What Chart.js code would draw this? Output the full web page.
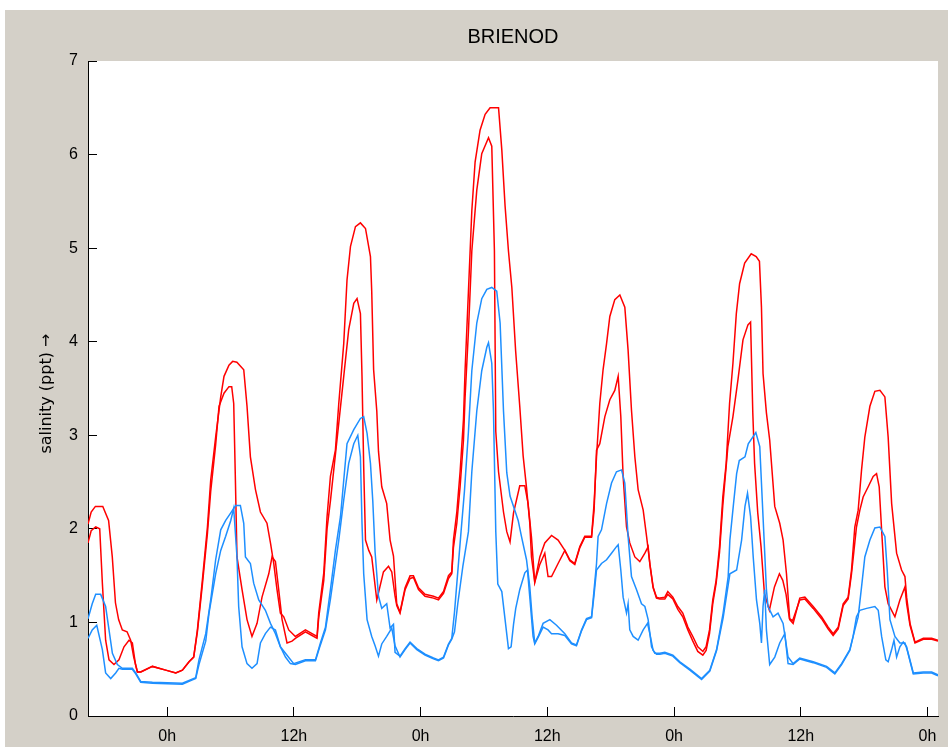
<!DOCTYPE html>
<html>
<head>
<meta charset="utf-8">
<title>BRIENOD</title>
<script src="https://cdn.jsdelivr.net/npm/chart.js@4.4.1/dist/chart.umd.min.js"></script>
<style>
  html, body { margin: 0; padding: 0; background: #fff; }
  canvas { display: block; }
</style>
</head>
<body>
<canvas id="salinity-chart" width="948" height="747"></canvas>
<script>
/* ============================================
   BRIENOD — salinity (ppt) over ~3.5 days
   ============================================ */

// tick positions on the time axis (hours) and their labels
const tickHours = [0, 12, 24, 36, 48, 60, 72];
const tickLabels = ['0h', '12h', '0h', '12h', '0h', '12h', '0h'];

// [hour, salinity] pairs
const redHigh = [
  [-7.5,2.05],[-7.2,2.18],[-6.8,2.24],[-6.1,2.24],[-5.55,2.09],[-5.2,1.70],[-4.9,1.21],[-4.6,1.03],[-4.25,0.92],[-3.8,0.90],
  [-3.46,0.81],[-3.17,0.63],[-2.82,0.47],[-2.5,0.47],[-1.4,0.53],[-0.14,0.49],[0.81,0.46],[1.44,0.49],[2.07,0.58],[2.51,0.63],
  [2.86,0.92],[3.33,1.45],[3.81,2.02],[4.12,2.52],[4.59,2.98],[5.07,3.41],[5.38,3.63],[5.85,3.75],[6.2,3.79],[6.6,3.78],
  [7.25,3.70],[7.56,3.31],[7.88,2.77],[8.36,2.42],[8.83,2.18],[9.45,2.06],[9.78,1.85],[10.09,1.63],[10.40,1.35],[10.72,1.10],
  [11.04,1.06],[11.51,0.92],[12.14,0.85],[13.09,0.92],[13.72,0.88],[14.19,0.85],[14.35,1.10],[14.83,1.53],[15.14,2.13],[15.46,2.56],
  [15.93,2.84],[16.25,3.34],[16.72,3.98],[17.03,4.66],[17.36,5.02],[17.83,5.23],[18.30,5.27],[18.78,5.21],[19.25,4.91],[19.37,4.54],
  [19.55,3.70],[19.85,3.26],[20.01,2.83],[20.32,2.45],[20.79,2.27],[21.11,1.88],[21.43,1.71],[21.74,1.20],[22.05,1.11],[22.53,1.37],
  [23.00,1.50],[23.32,1.50],[23.80,1.37],[24.42,1.30],[25.22,1.28],[25.69,1.26],[26.17,1.33],[26.64,1.50],[26.95,1.54],[27.11,1.88],
  [27.43,2.18],[27.74,2.61],[28.06,3.17],[28.21,3.69],[28.53,4.54],[28.85,5.40],[29.16,5.92],[29.63,6.26],[30.11,6.43],[30.58,6.50],
  [31.38,6.50],[31.69,6.05],[32.00,5.45],[32.32,4.97],[32.64,4.58],[33.0,3.90],[33.39,3.31],[33.71,2.78],[34.03,2.44],[34.34,2.06],
  [34.50,1.70],[34.81,1.43],[35.29,1.70],[35.76,1.85],[36.40,1.93],[37.02,1.88],[37.66,1.77],[38.13,1.67],[38.60,1.63],[39.08,1.81],
  [39.55,1.92],[40.19,1.92],[40.43,2.27],[40.66,2.77],[40.97,3.34],[41.28,3.70],[41.61,3.98],[41.92,4.27],[42.39,4.45],[42.87,4.50],
  [43.34,4.37],[43.65,3.91],[43.97,3.27],[44.29,2.77],[44.60,2.42],[45.08,2.20],[45.40,1.92],[45.71,1.63],[46.02,1.38],[46.34,1.27],
  [46.66,1.26],[47.13,1.27],[47.41,1.33],[47.89,1.27],[48.36,1.17],[48.83,1.10],[49.31,0.95],[49.78,0.85],[50.25,0.74],[50.73,0.69],
  [51.04,0.74],[51.36,0.92],[51.67,1.24],[51.99,1.45],[52.31,1.81],[52.62,2.34],[52.94,2.70],[53.26,3.34],[53.58,3.77],[53.90,4.30],
  [54.21,4.62],[54.69,4.84],[55.31,4.94],[55.78,4.91],[56.09,4.86],[56.28,4.37],[56.43,3.66],[56.75,3.24],[57.06,2.95],[57.54,2.24],
  [58.01,2.06],[58.33,1.88],[58.65,1.52],[58.96,1.03],[59.28,0.99],[59.91,1.26],[60.39,1.27],[61.18,1.17],[61.97,1.06],[62.60,0.95],
  [63.07,0.88],[63.55,0.95],[64.02,1.20],[64.49,1.27],[64.81,1.56],[65.12,2.02],[65.44,2.20],[65.76,2.63],[66.07,2.98],[66.55,3.31],
  [67.02,3.47],[67.50,3.48],[67.97,3.41],[68.28,2.98],[68.61,2.27],[69.08,1.74],[69.55,1.56],[69.87,1.49],[70.03,1.27],[70.35,0.99],
  [70.82,0.79],[71.61,0.83],[72.40,0.83],[73.0,0.81]
];

const redLow = [
  [-7.5,1.85],[-7.2,1.98],[-6.77,2.02],[-6.39,2.00],[-6.14,1.42],[-5.83,0.81],[-5.51,0.60],[-5.04,0.55],[-4.57,0.60],[-4.09,0.74],
  [-3.62,0.81],[-3.30,0.78],[-3.0,0.55],[-2.82,0.47],[-2.5,0.47],[-1.4,0.53],[-0.14,0.49],[0.81,0.46],[1.44,0.49],[2.07,0.58],
  [2.51,0.63],[2.86,0.90],[3.33,1.40],[3.81,1.95],[4.12,2.40],[4.59,2.90],[4.91,3.31],[5.38,3.45],[5.85,3.52],[6.11,3.52],
  [6.30,3.34],[6.46,2.52],[6.61,1.70],[7.09,1.35],[7.56,1.03],[8.03,0.85],[8.51,0.99],[8.98,1.27],[9.62,1.52],[9.93,1.70],
  [10.25,1.65],[10.56,1.35],[10.88,1.03],[11.35,0.78],[11.82,0.80],[12.14,0.83],[13.09,0.90],[13.72,0.86],[14.19,0.83],[14.35,1.05],
  [14.83,1.45],[15.14,2.00],[15.46,2.30],[16.25,3.13],[16.72,3.63],[17.19,4.13],[17.67,4.41],[17.98,4.46],[18.30,4.30],[18.45,3.63],
  [18.61,2.66],[18.78,1.88],[19.09,1.77],[19.37,1.70],[19.85,1.24],[20.48,1.54],[20.96,1.60],[21.27,1.54],[21.58,1.28],[21.74,1.18],
  [22.05,1.10],[22.53,1.35],[23.0,1.47],[23.32,1.48],[23.80,1.35],[24.42,1.28],[25.22,1.26],[25.69,1.24],[26.17,1.31],[26.64,1.47],
  [26.95,1.52],[27.11,1.80],[27.43,2.06],[27.74,2.45],[28.06,2.95],[28.21,3.40],[28.53,4.11],[28.85,4.97],[29.32,5.62],[29.79,6.01],
  [30.43,6.18],[30.74,6.09],[30.99,4.97],[31.12,3.04],[31.38,2.61],[31.85,2.18],[32.16,1.97],[32.47,1.86],[32.80,2.17],[33.39,2.46],
  [33.87,2.46],[34.18,2.27],[34.50,1.91],[34.81,1.43],[35.29,1.62],[35.76,1.74],[36.07,1.49],[36.40,1.49],[37.02,1.63],[37.66,1.77],
  [38.13,1.66],[38.60,1.62],[39.08,1.80],[39.55,1.91],[40.19,1.91],[40.43,2.20],[40.66,2.84],[40.97,2.91],[41.45,3.20],[41.92,3.38],
  [42.39,3.48],[42.71,3.63],[42.96,3.20],[43.18,2.56],[43.50,2.02],[43.81,1.85],[44.29,1.70],[44.76,1.65],[45.24,1.74],[45.55,1.81],
  [45.71,1.62],[46.02,1.37],[46.34,1.26],[46.66,1.25],[47.13,1.25],[47.41,1.30],[47.89,1.25],[48.36,1.14],[48.83,1.06],[49.31,0.92],
  [49.78,0.80],[50.25,0.69],[50.73,0.65],[51.04,0.70],[51.36,0.88],[51.67,1.20],[51.99,1.42],[52.31,1.75],[52.62,2.25],[53.10,2.88],
  [53.58,3.20],[54.05,3.59],[54.53,4.02],[55.00,4.18],[55.25,4.21],[55.46,3.24],[55.63,2.70],[55.93,2.17],[56.24,1.81],[56.56,1.31],
  [57.03,1.13],[57.51,1.38],[57.98,1.52],[58.30,1.45],[58.61,1.30],[58.93,1.04],[59.24,1.02],[59.91,1.24],[60.39,1.25],[61.18,1.15],
  [61.97,1.04],[62.60,0.93],[63.07,0.86],[63.55,0.93],[64.02,1.18],[64.49,1.25],[64.81,1.52],[65.28,2.02],[65.60,2.20],[65.91,2.34],
  [66.39,2.45],[66.86,2.56],[67.18,2.59],[67.43,2.45],[67.66,1.99],[67.97,1.38],[68.28,1.20],[68.92,1.06],[69.39,1.24],[69.87,1.38],
  [70.03,1.20],[70.35,0.97],[70.82,0.78],[71.61,0.82],[72.40,0.82],[73.0,0.80]
];

const blueHigh = [
  [-7.5,1.04],[-7.1,1.20],[-6.77,1.30],[-6.30,1.30],[-5.83,1.17],[-5.51,0.92],[-5.19,0.67],[-4.72,0.55],[-4.25,0.51],[-3.30,0.51],
  [-2.98,0.46],[-2.51,0.37],[-1.40,0.36],[1.44,0.35],[2.07,0.38],[2.70,0.41],[3.01,0.60],[3.65,0.88],[4.12,1.24],[4.59,1.67],
  [5.07,1.99],[5.54,2.09],[6.02,2.17],[6.49,2.25],[6.93,2.25],[7.25,2.06],[7.41,1.70],[7.88,1.63],[8.19,1.42],[8.67,1.24],
  [9.30,1.13],[9.78,0.99],[10.25,0.88],[10.72,0.74],[11.20,0.67],[11.98,0.56],[13.09,0.60],[14.04,0.60],[14.51,0.78],[14.99,0.95],
  [15.46,1.35],[15.93,1.77],[16.41,2.13],[16.72,2.52],[17.03,2.91],[17.67,3.06],[18.30,3.18],[18.61,3.20],[18.93,3.02],[19.25,2.70],
  [19.47,2.30],[19.69,1.75],[20.01,1.28],[20.32,1.15],[20.79,1.20],[21.11,0.94],[21.43,0.98],[21.58,0.68],[22.05,0.64],[22.53,0.72],
  [23.00,0.79],[23.64,0.72],[24.42,0.66],[25.22,0.62],[25.69,0.60],[26.17,0.63],[26.64,0.77],[26.95,0.83],[27.21,1.11],[27.52,1.54],
  [27.83,1.97],[28.15,2.40],[28.53,3.04],[28.85,3.69],[29.32,4.20],[29.79,4.46],[30.27,4.56],[30.74,4.58],[31.21,4.54],[31.53,4.20],
  [31.85,3.26],[32.16,2.60],[32.47,2.35],[32.92,2.20],[33.24,2.09],[33.55,1.92],[34.03,1.67],[34.34,1.38],[34.56,1.06],[34.81,0.78],
  [35.13,0.85],[35.60,0.99],[36.24,1.03],[36.87,0.97],[37.66,0.88],[38.29,0.78],[38.76,0.76],[39.24,0.92],[39.71,1.04],[40.19,1.06],
  [40.43,1.35],[40.66,1.63],[40.81,1.92],[41.13,1.99],[41.61,2.27],[42.08,2.49],[42.55,2.61],[43.03,2.63],[43.34,2.49],[43.65,1.92],
  [43.97,1.49],[44.45,1.35],[44.92,1.20],[45.24,1.17],[45.55,1.03],[45.87,0.74],[46.18,0.67],[46.66,0.67],[47.13,0.68],[47.89,0.65],
  [48.55,0.58],[49.50,0.50],[50.61,0.40],[51.39,0.49],[52.03,0.71],[52.65,1.10],[53.13,1.49],[53.29,1.88],[53.61,2.24],[53.93,2.59],
  [54.18,2.73],[54.72,2.77],[55.03,2.91],[55.75,3.03],[56.12,2.88],[56.43,2.13],[56.75,1.35],[56.90,1.17],[57.38,1.06],[57.85,1.10],
  [58.33,0.99],[58.80,0.63],[59.28,0.56],[59.91,0.62],[61.18,0.58],[62.45,0.53],[63.23,0.46],[63.87,0.56],[64.65,0.71],[65.12,0.92],
  [65.44,1.06],[65.76,1.38],[66.07,1.70],[66.55,1.88],[67.02,2.01],[67.50,2.02],[67.97,1.92],[68.19,1.56],[68.45,1.03],[68.92,0.85],
  [69.39,0.78],[69.87,0.78],[70.18,0.67],[70.66,0.46],[71.61,0.47],[72.40,0.47],[73.0,0.44]
];

const blueLow = [
  [-7.5,0.83],[-7.1,0.92],[-6.67,0.97],[-6.14,0.71],[-5.83,0.46],[-5.35,0.40],[-4.88,0.46],[-4.57,0.51],[-4.25,0.50],[-3.30,0.50],
  [-2.98,0.45],[-2.51,0.36],[-1.40,0.35],[1.44,0.34],[2.07,0.37],[2.70,0.40],[3.01,0.55],[3.65,0.80],[3.96,1.10],[4.59,1.52],
  [5.07,1.77],[5.54,1.92],[6.02,2.09],[6.30,2.22],[6.61,1.70],[6.77,1.17],[7.09,0.74],[7.56,0.56],[8.03,0.51],[8.51,0.56],
  [8.83,0.78],[9.30,0.88],[9.78,0.95],[10.25,0.92],[10.72,0.74],[11.20,0.63],[11.67,0.56],[12.14,0.55],[13.09,0.59],[14.04,0.59],
  [14.51,0.76],[14.99,0.92],[15.46,1.25],[16.25,1.88],[16.72,2.31],[17.19,2.70],[17.67,2.91],[18.05,3.00],[18.30,2.77],[18.45,2.06],
  [18.61,1.52],[18.93,1.03],[19.37,0.85],[19.69,0.75],[20.01,0.64],[20.32,0.77],[20.79,0.85],[21.27,0.94],[21.58,0.75],[22.05,0.63],
  [22.53,0.71],[23.00,0.78],[23.64,0.71],[24.42,0.65],[25.22,0.61],[25.69,0.59],[26.17,0.62],[26.64,0.76],[26.95,0.82],[27.21,0.90],
  [27.52,1.20],[28.00,1.60],[28.53,1.97],[28.85,2.61],[29.32,3.26],[29.79,3.69],[30.27,3.94],[30.43,3.99],[30.74,3.77],[30.90,3.26],
  [31.12,1.97],[31.31,1.41],[31.69,1.33],[32.00,1.03],[32.32,0.72],[32.57,0.74],[32.80,0.98],[33.01,1.15],[33.39,1.35],[33.87,1.53],
  [34.12,1.56],[34.34,1.27],[34.65,0.85],[34.81,0.77],[35.13,0.84],[35.60,0.95],[36.07,0.92],[36.40,0.88],[37.02,0.88],[37.66,0.86],
  [38.29,0.77],[38.76,0.75],[39.24,0.91],[39.71,1.03],[40.19,1.05],[40.43,1.30],[40.66,1.56],[41.13,1.63],[41.61,1.67],[42.08,1.74],
  [42.55,1.81],[42.71,1.83],[42.96,1.56],[43.18,1.27],[43.50,1.10],[43.65,1.20],[43.81,0.92],[44.13,0.85],[44.60,0.81],[45.08,0.92],
  [45.49,0.99],[45.71,0.88],[46.02,0.70],[46.34,0.66],[46.66,0.66],[47.13,0.67],[47.89,0.64],[48.55,0.57],[49.50,0.49],[50.61,0.39],
  [51.39,0.48],[52.03,0.70],[52.65,1.05],[53.29,1.52],[53.93,1.56],[54.40,1.88],[54.72,2.24],[54.96,2.38],[55.25,2.13],[55.50,1.70],
  [55.81,1.24],[56.12,0.99],[56.28,0.78],[56.43,1.17],[56.59,1.35],[56.75,0.92],[57.06,0.55],[57.54,0.63],[58.01,0.78],[58.49,0.88],
  [58.80,0.56],[59.28,0.55],[59.91,0.61],[61.18,0.57],[62.45,0.52],[63.23,0.45],[63.87,0.55],[64.65,0.70],[64.96,0.85],[65.28,1.06],
  [65.60,1.13],[66.24,1.15],[67.02,1.17],[67.34,1.13],[67.66,0.85],[68.06,0.60],[68.28,0.58],[68.61,0.71],[68.83,0.81],[69.08,0.63],
  [69.39,0.74],[69.71,0.79],[70.03,0.74],[70.18,0.66],[70.66,0.45],[71.61,0.46],[72.40,0.46],[73.0,0.43]
];

const RED = '#ff0000';
const BLUE = '#1e8fff';
const PANEL = '#d4d0c8';
const FONT = "'Liberation Sans', Arial, 'DejaVu Sans', sans-serif";

// grey figure panel + white axes box, painted before the scales
const figureBackground = {
  id: 'figureBackground',
  beforeDraw(chart) {
    const { ctx, chartArea: a, width, height } = chart;
    ctx.save();
    ctx.fillStyle = PANEL;
    ctx.fillRect(5, 10, width - 5, height - 10);
    ctx.fillStyle = '#ffffff';
    ctx.fillRect(a.left, a.top, a.right - a.left, a.bottom - a.top);
    ctx.restore();
  }
};

function toPoints(pairs) {
  return pairs.map(([h, v]) => ({ x: h, y: v }));
}

function lineSet(label, pairs, color) {
  return {
    label,
    data: toPoints(pairs),
    borderColor: color,
    backgroundColor: color,
    borderWidth: 1.5,
    pointRadius: 0,
    tension: 0,
    fill: false
  };
}

new Chart(document.getElementById('salinity-chart'), {
  type: 'line',
  data: {
    datasets: [
      lineSet('blue (broad)', blueHigh, BLUE),
      lineSet('blue (narrow)', blueLow, BLUE),
      lineSet('red (broad)', redHigh, RED),
      lineSet('red (narrow)', redLow, RED)
    ]
  },
  options: {
    responsive: false,
    animation: false,
    layout: { padding: { left: 0, right: 10, top: 0, bottom: 0 } },
    plugins: {
      legend: { display: false },
      tooltip: { enabled: false },
      title: {
        display: true,
        text: 'BRIENOD',
        fullSize: false,
        color: '#000',
        font: { family: FONT, size: 20, weight: 'normal' },
        padding: { top: 25, bottom: 12 }
      }
    },
    scales: {
      x: {
        type: 'linear',
        position: 'bottom',
        min: -7.5,
        max: 73,
        afterBuildTicks: scale => { scale.ticks = tickHours.map(h => ({ value: h })); },
        afterFit: scale => {
          scale.height = 31;
          // keep the label padding from squeezing the plot on the right
          scale.paddingLeft = 0;
          scale.paddingRight = 0;
        },
        ticks: {
          color: '#000',
          font: { family: FONT, size: 16 },
          padding: 20,
          maxRotation: 0,
          callback: v => tickLabels[tickHours.indexOf(v)]
        },
        grid: { drawOnChartArea: false, tickLength: -9, color: '#000' },
        border: { display: true, color: '#000', width: 1 }
      },
      y: {
        min: 0,
        max: 7,
        afterFit: scale => { scale.width = 88; },
        ticks: {
          stepSize: 1,
          color: '#000',
          font: { family: FONT, size: 16 },
          padding: 19
        },
        grid: { drawOnChartArea: false, tickLength: -9, color: '#000' },
        border: { display: true, color: '#000', width: 1 },
        title: {
          display: true,
          text: 'salinity (ppt) \u2192\u00a0\u00a0',
          color: '#000',
          font: { family: "'DejaVu Sans', sans-serif", size: 16 },
          padding: { top: 37, bottom: 0 }
        }
      }
    }
  },
  plugins: [figureBackground]
});
</script>
</body>
</html>
